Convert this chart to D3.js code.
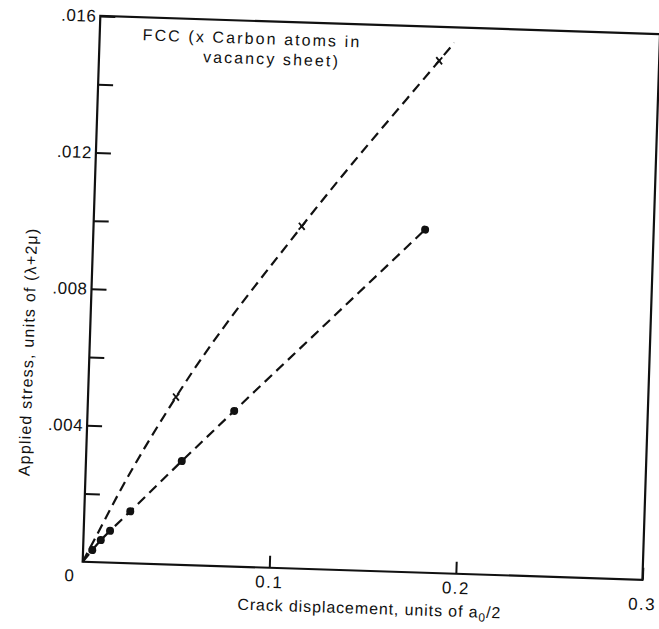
<!DOCTYPE html>
<html>
<head>
<meta charset="utf-8">
<script src="https://cdn.jsdelivr.net/npm/d3@7"></script>
<style>
  body { margin: 0; background: #fff; }
  text { font-family: "Liberation Sans", Arial, sans-serif; fill: #111; }
</style>
</head>
<body>
<div id="chart-area"></div>
<script>
// values
var dotX = [0.0049, 0.0093, 0.0141, 0.0246, 0.0513, 0.0785, 0.1776];
var dotY = [0.00035, 0.00065, 0.00093, 0.00152, 0.00304, 0.00456, 0.01005];
var carbonX = [0.0471, 0.1115, 0.1822];
var carbonY = [0.00491, 0.01003, 0.01501];
// dashed guide through the carbon points
var curveX = [0, 0.0054, 0.0187, 0.0471, 0.1115, 0.1822, 0.190];
var curveY = [0, 0.0006, 0.0021, 0.00491, 0.01003, 0.01501, 0.01555];
var xTicks = [0.1, 0.2, 0.3];
var yTicks = [0.004, 0.008, 0.012, 0.016];
var yMinor = [0.002, 0.006, 0.010, 0.014];

var width = 560, height = 546;
var tilt = 1.85; // the scanned page is a bit rotated

var svg = d3.select("#chart-area")
  .append("svg")
    .attr("width", 659)
    .attr("height", 629);

var g = svg.append("g")
    .attr("transform", "translate(82.7,561.7) rotate(" + tilt + ") translate(0," + (-height) + ")");

var x = d3.scaleLinear().domain([0, 0.3]).range([0, width]);
var y = d3.scaleLinear().domain([0, 0.016]).range([height, 0]);

// frame
g.append("rect")
    .attr("width", width)
    .attr("height", height)
    .attr("fill", "none")
    .attr("stroke", "#111")
    .attr("stroke-width", 2.2);

// X axis
var xAxis = g.append("g")
    .attr("transform", "translate(0," + height + ")")
    .call(d3.axisBottom(x).tickValues(xTicks).tickSize(-12).tickPadding(8)
      .tickFormat(d3.format(".1f")));
xAxis.select(".domain").remove();
xAxis.selectAll("line").attr("stroke", "#111").attr("stroke-width", 2);
xAxis.selectAll("text").attr("font-size", "17px").attr("letter-spacing", "1.5px")
    .attr("y", function(d) { return d === 0.3 ? 18 : 8; });

// Y axis
var yAxis = g.append("g")
    .call(d3.axisLeft(y).tickValues(yTicks).tickSize(-15).tickPadding(4)
      .tickFormat(function(d) { return d3.format(".3f")(d).replace(/^0/, ""); }));
yAxis.select(".domain").remove();
yAxis.selectAll("line").attr("stroke", "#111").attr("stroke-width", 2);
yAxis.selectAll("text").attr("font-size", "17px").attr("letter-spacing", "0.5px");

var yMinorAxis = g.append("g")
    .call(d3.axisLeft(y).tickValues(yMinor).tickSize(-15).tickFormat(""));
yMinorAxis.select(".domain").remove();
yMinorAxis.selectAll("line").attr("stroke", "#111").attr("stroke-width", 2);

// shared origin label
g.append("text")
    .attr("x", -13)
    .attr("y", height + 20)
    .attr("text-anchor", "middle")
    .attr("font-size", "17px")
    .text("0");

// axis titles
var xTitle = g.append("text")
    .attr("x", 288)
    .attr("y", height + 43)
    .attr("text-anchor", "middle")
    .attr("font-size", "16px")
    .attr("letter-spacing", "0.9px");
xTitle.append("tspan").text("Crack displacement, units of  a");
xTitle.append("tspan").attr("dy", 4).attr("font-size", "12px").text("0");
xTitle.append("tspan").attr("dy", -4).text("/2");

g.append("text")
    .attr("transform", "translate(-56,338) rotate(-90)")
    .attr("text-anchor", "middle")
    .attr("font-size", "16px")
    .attr("letter-spacing", "1.2px")
    .text("Applied stress, units of (\u03bb+2\u03bc)");

// note text
g.append("text")
    .attr("x", 43).attr("y", 23)
    .attr("font-size", "16px")
    .attr("letter-spacing", "2.1px")
    .text("FCC (x Carbon atoms in");
g.append("text")
    .attr("x", 104).attr("y", 43)
    .attr("font-size", "16px")
    .attr("letter-spacing", "2.1px")
    .text("vacancy sheet)");

// dashed lines
var dotLine = d3.line()
    .x(function(d) { return x(d[0]); })
    .y(function(d) { return y(d[1]); });
var curveLine = d3.line()
    .x(function(d) { return x(d[0]); })
    .y(function(d) { return y(d[1]); })
    .curve(d3.curveMonotoneX);

var dotPts = [[0, 0]].concat(dotX.map(function(v, i) { return [v, dotY[i]]; }));
var curvePts = curveX.map(function(v, i) { return [v, curveY[i]]; });

g.append("path")
    .attr("d", dotLine(dotPts))
    .attr("fill", "none")
    .attr("stroke", "#111")
    .attr("stroke-width", 2.2)
    .attr("stroke-dasharray", "10,6");

g.append("path")
    .attr("d", curveLine(curvePts))
    .attr("fill", "none")
    .attr("stroke", "#111")
    .attr("stroke-width", 2.2)
    .attr("stroke-dasharray", "10,6");

// markers
g.selectAll(".dot")
    .data(dotX)
  .enter().append("circle")
    .attr("class", "dot")
    .attr("cx", function(d) { return x(d); })
    .attr("cy", function(d, i) { return y(dotY[i]); })
    .attr("r", 4)
    .attr("fill", "#111");

g.selectAll(".cross")
    .data(carbonX)
  .enter().append("path")
    .attr("class", "cross")
    .attr("transform", function(d, i) {
      return "translate(" + x(d) + "," + y(carbonY[i]) + ")";
    })
    .attr("d", "M-3,-3.5L3,3.5M-3,3.5L3,-3.5")
    .attr("stroke", "#111")
    .attr("stroke-width", 1.8)
    .attr("fill", "none");
</script>
</body>
</html>
